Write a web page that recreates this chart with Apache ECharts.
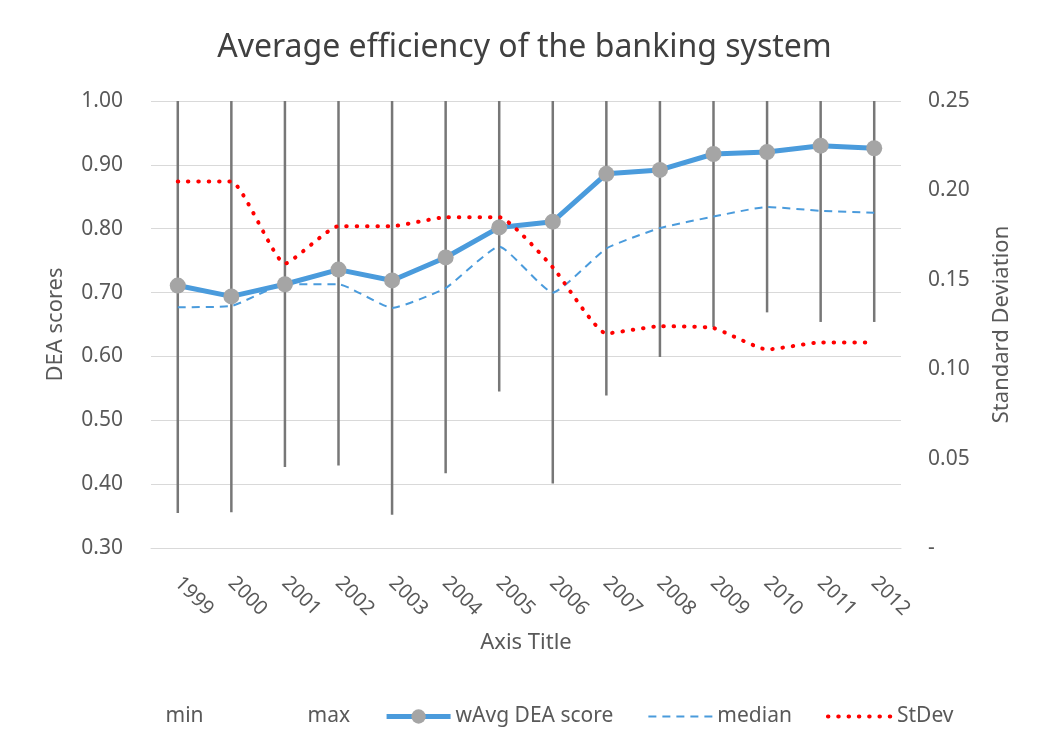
<!DOCTYPE html>
<html>
<head>
<meta charset="utf-8">
<script src="https://cdn.jsdelivr.net/npm/echarts@6/dist/echarts.min.js"></script>
<style>
  html, body { margin: 0; padding: 0; background: #fff; }
  #chart { width: 1049px; height: 754px; }
</style>
</head>
<body>
<div id="chart"></div>
<script>
  // values
  const years = ['1999', '2000', '2001', '2002', '2003', '2004', '2005', '2006', '2007', '2008', '2009', '2010', '2011', '2012']
  const minScores = [0.355, 0.356, 0.427, 0.429, 0.352, 0.417, 0.545, 0.401, 0.539, 0.599, 0.646, 0.669, 0.654, 0.654]
  const maxScores = [1.0, 1.0, 1.0, 1.0, 1.0, 1.0, 1.0, 1.0, 1.0, 1.0, 1.0, 1.0, 1.0, 1.0]
  const wAvgScores = [0.711, 0.694, 0.713, 0.736, 0.719, 0.755, 0.802, 0.811, 0.886, 0.892, 0.917, 0.920, 0.930, 0.926]
  const medianScores = [0.677, 0.679, 0.713, 0.713, 0.676, 0.707, 0.772, 0.700, 0.769, 0.801, 0.819, 0.834, 0.828, 0.825]
  const stDevValues = [0.205, 0.205, 0.159, 0.180, 0.180, 0.185, 0.185, 0.157, 0.120, 0.124, 0.123, 0.111, 0.115, 0.115]

  const font = '"Noto Sans", "Open Sans", sans-serif'
  const blue = '#4a9bdc'
  const red = '#ff0000'
  const textColor = '#595959'
  const dotted = [0.5, 9.8]

  const chart = echarts.init(document.getElementById('chart'))

  const option = {
    animation: false,
    textStyle: { fontFamily: font },
    title: {
      text: 'Average efficiency of the banking system',
      left: 'center',
      top: 27,
      textStyle: { fontSize: 32, fontWeight: 'normal', color: '#404040', fontFamily: font },
    },
    legend: {
      bottom: 22,
      left: 'center',
      itemWidth: 64,
      itemHeight: 18,
      itemGap: 34,
      textStyle: { fontSize: 21, color: textColor, fontFamily: font },
      data: [
        { name: 'min', itemStyle: { opacity: 0 }, lineStyle: { opacity: 0 } },
        { name: 'max', itemStyle: { opacity: 0 }, lineStyle: { opacity: 0 } },
        { name: 'wAvg DEA score', lineStyle: { width: 5, color: blue } },
        { name: 'median', itemStyle: { opacity: 0 }, lineStyle: { width: 2, color: blue, type: [8, 6] } },
        { name: 'StDev', itemStyle: { opacity: 0 }, lineStyle: { width: 4, color: red, type: dotted, cap: 'round' } },
      ],
    },
    grid: { left: 151, right: 148, top: 101, bottom: 206 },
    xAxis: {
      type: 'category',
      data: years,
      name: 'Axis Title',
      nameLocation: 'middle',
      nameGap: 84,
      nameTextStyle: { fontSize: 22, color: textColor },
      axisLine: { lineStyle: { color: '#d9d9d9' } },
      axisTick: { show: false },
      axisLabel: { rotate: -45, margin: 32, fontSize: 20, color: textColor, interval: 0 },
    },
    yAxis: [
      {
        type: 'value',
        min: 0.3,
        max: 1.0,
        interval: 0.1,
        name: 'DEA scores',
        nameLocation: 'middle',
        nameGap: 84,
        nameTextStyle: { fontSize: 22, color: textColor },
        axisLine: { show: false },
        axisTick: { show: false },
        axisLabel: { margin: 28, fontSize: 21, color: textColor, formatter: (v) => v.toFixed(2) },
        splitLine: { lineStyle: { color: '#d9d9d9' } },
      },
      {
        type: 'value',
        min: 0,
        max: 0.25,
        interval: 0.05,
        name: 'Standard Deviation',
        nameLocation: 'middle',
        nameGap: 90,
        nameTextStyle: { fontSize: 22, color: textColor },
        axisLine: { show: false },
        axisTick: { show: false },
        splitLine: { show: false },
        axisLabel: { margin: 27, fontSize: 21, color: textColor, formatter: (v) => (v === 0 ? '-' : v.toFixed(2)) },
      },
    ],
    series: [
      {
        name: 'min',
        type: 'line',
        data: minScores,
        symbol: 'none',
        silent: true,
        lineStyle: { opacity: 0 },
        itemStyle: { opacity: 0 },
      },
      {
        name: 'max',
        type: 'line',
        data: maxScores,
        symbol: 'none',
        silent: true,
        lineStyle: { opacity: 0 },
        itemStyle: { opacity: 0 },
      },
      {
        name: 'hilo',
        type: 'custom',
        silent: true,
        z: 1,
        data: years.map((y, i) => [i, minScores[i], maxScores[i]]),
        renderItem: (params, api) => {
          const lo = api.coord([api.value(0), api.value(1)])
          const hi = api.coord([api.value(0), api.value(2)])
          return {
            type: 'line',
            shape: { x1: lo[0], y1: lo[1], x2: hi[0], y2: hi[1] },
            style: { stroke: '#777777', lineWidth: 2.5 },
          }
        },
      },
      {
        name: 'median',
        type: 'line',
        z: 3,
        data: medianScores,
        symbol: 'none',
        smooth: 0.15,
        lineStyle: { color: blue, width: 2, type: [8, 6] },
        itemStyle: { color: blue },
      },
      {
        name: 'wAvg DEA score',
        type: 'line',
        z: 4,
        data: wAvgScores,
        symbol: 'circle',
        symbolSize: 16,
        lineStyle: { color: blue, width: 5 },
        itemStyle: { color: '#a5a5a5' },
      },
      {
        name: 'StDev',
        type: 'line',
        yAxisIndex: 1,
        z: 5,
        data: stDevValues,
        symbol: 'none',
        smooth: 0.15,
        lineStyle: { color: red, width: 4, type: dotted, cap: 'round' },
        itemStyle: { color: red },
      },
    ],
  }

  chart.setOption(option)
</script>
</body>
</html>
